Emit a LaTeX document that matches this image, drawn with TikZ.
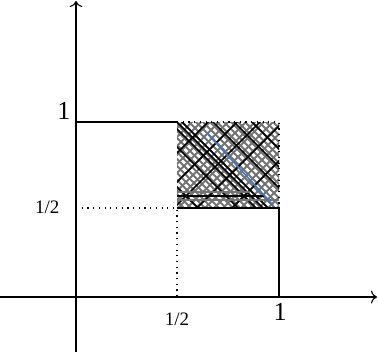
\documentclass[tikz,border=0pt]{standalone}
\usepackage{fontspec}
\setmainfont{Liberation Serif}
\usetikzlibrary{arrows.meta}
\definecolor{steel}{RGB}{70,120,185}
\begin{document}
\begin{tikzpicture}[x=1pt,y=-1pt,
  axis/.style={line width=1.1pt,-{To[length=6pt,width=13pt,line width=1.1pt]}},
  solidln/.style={line width=1.3pt},
  dotln/.style={line width=1.2pt,dash pattern=on 1.2pt off 4.5pt},
  hatchg/.style={black!55,line width=1.9pt},
  hatchk/.style={black,line width=1.7pt},
  big/.style={font=\fontsize{26}{26}\selectfont},
  small/.style={font=\fontsize{19}{19}\selectfont}]
\useasboundingbox (0,0) rectangle (378,356);
% key points
\coordinate (O) at (76,297);
\coordinate (X) at (377,297);
\coordinate (Xs) at (0,297);
\coordinate (Y) at (76,1);
\coordinate (Ys) at (76,352);
\coordinate (A1) at (76,122);   % (0,1)
\coordinate (B1) at (177,122);  % (1/2,1)
\coordinate (C1) at (279,122);  % (1,1)
\coordinate (Ah) at (76,208);   % (0,1/2)
\coordinate (Bh) at (177,208);  % (1/2,1/2)
\coordinate (Ch) at (279,208);  % (1,1/2)
\coordinate (Bx) at (177,297);  % (1/2,0)
\coordinate (Cx) at (279,297);  % (1,0)
% hatching
\begin{scope}
\clip (B1) rectangle (Ch);
\foreach \c in {-31,-24,...,160} {\draw[hatchg] (\c+100,100) -- (\c+230,230);}
\foreach \c in {296,305,...,490} {\draw[hatchg] (\c-100,100) -- (\c-230,230);}
\foreach \c in {-10,30,48,55,60,91,112,130} {\draw[hatchk] (\c+100,100) -- (\c+230,230);}
\foreach \c in {330,359,382,405,440} {\draw[hatchk] (\c-100,100) -- (\c-230,230);}
\draw[hatchg] (177,192) -- (250,192);
\draw[hatchk] (177,196) -- (265,196);
\draw[hatchg] (177,200) -- (279,200);
\end{scope}
\coordinate (bl1) at (207,133);
\coordinate (bl2) at (273,205);
\draw[line width=1.7pt,steel] (bl1) -- (bl2);
% axes
\draw[axis] (Xs) -- (X);
\draw[axis] (Ys) -- (Y);
% solid lines
\draw[solidln] (A1) -- (B1);
\draw[solidln] (Bh) -- (Ch) -- (Cx);
% dotted lines
\draw[dotln] (B1) -- (C1) -- (Ch);
\draw[dotln] (Ah) -- (Bh) -- (Bx);
% labels
\node[big,anchor=east] (l1y) at (74,111) {1};
\node[small,anchor=east] (lhy) at (63,207) {1/2};
\node[small] (lhx) at (177,319) {1/2};
\node[big] (l1x) at (280,312) {1};
\end{tikzpicture}
\end{document}
